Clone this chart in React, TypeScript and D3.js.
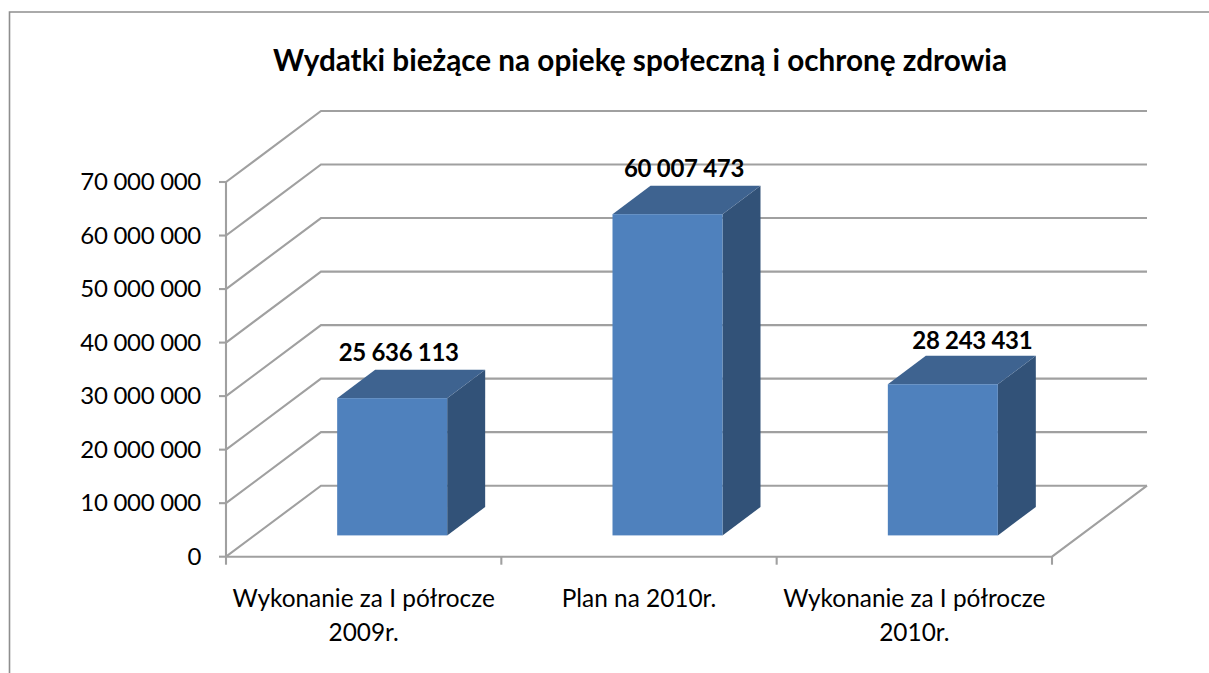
import React from "react";
import * as d3 from "d3";

const categories = [
  ["Wykonanie za I półrocze", "2009r."],
  ["Plan na 2010r."],
  ["Wykonanie za I półrocze", "2010r."],
];
const values = [25636113, 60007473, 28243431];
const valueLabels = ["25 636 113", "60 007 473", "28 243 431"];
const yTicks = [0, 10000000, 20000000, 30000000, 40000000, 50000000, 60000000, 70000000];
const title = "Wydatki bieżące na opiekę społeczną i ochronę zdrowia";

const font = "Lato, 'Open Sans', sans-serif";
const gridColor = "#a0a0a0";

// size of the 3d floor
const depthX = 95;
const depthY = 71;

const yScale = d3.scaleLinear().domain([0, 70000000]).range([556.7, 182]);
const xScale = d3.scaleBand().domain(d3.range(categories.length).map(String)).range([226, 1052]);
// z runs from the front of the floor (0) to the back wall (1)
const zX = d3.scaleLinear().domain([0, 1]).range([0, depthX]);
const zY = d3.scaleLinear().domain([0, 1]).range([0, -depthY]);

const barFront = 0.3;
const barBack = 0.7;
const barWidth = 110;

// the value labels were hand placed in the original chart
const labelShiftX = [6.5, 16.5, 29.5];
const labelShiftY = [-37, -37, -35];

const fmt = d3.formatLocale({ decimal: ",", thousands: " ", grouping: [3], currency: ["", ""] }).format(",d");
const line = d3.line();

export default function App() {
  const y0 = yScale(0);
  const xLeft = xScale.range()[0];
  const xRight = xScale.range()[1];
  const backLeft = xLeft + zX(1);
  const backRight = xRight + zX(1);
  const xEdges = [...xScale.domain().map((d) => xScale(d)), xRight];

  return (
    <svg
      width={1209}
      height={673}
      style={{ position: "absolute", left: 0, top: 0, background: "#fff" }}
    >
      {/* frame, cut by the page on the right and the bottom */}
      <path d={line([[9.5, 673], [9.5, 12], [1209, 12]])} fill="none" stroke="#8e8e8e" strokeWidth={1.6} />

      <text x={640} y={71} textAnchor="middle" fontFamily={font} fontWeight={700} fontSize={29.7} fill="#000">
        {title}
      </text>

      {/* gridlines: side wall + back wall */}
      {yTicks.map((t) => {
        const y = yScale(t);
        const backY = y + zY(1);
        return (
          <g key={t}>
            <path
              d={line([[xLeft, y], [backLeft, backY], [backRight, backY]])}
              fill="none"
              stroke={gridColor}
              strokeWidth={2.1}
            />
            <line x1={xLeft - 7} x2={xLeft} y1={y} y2={y} stroke={gridColor} strokeWidth={2.1} />
            <text
              x={xLeft - 25}
              y={y + 8}
              textAnchor="end"
              fontFamily={font}
              fontSize={24}
              letterSpacing={-0.3}
              fill="#000"
            >
              {fmt(t)}
            </text>
          </g>
        );
      })}

      {/* axes and floor */}
      <line x1={xLeft} x2={xLeft} y1={yScale(70000000)} y2={y0} stroke={gridColor} strokeWidth={2.1} />
      <path
        d={line([[xLeft, y0], [xRight, y0], [backRight, y0 + zY(1)]])}
        fill="none"
        stroke={gridColor}
        strokeWidth={2.1}
      />
      {xEdges.map((x) => (
        <line key={x} x1={x} x2={x} y1={y0} y2={y0 + 8} stroke={gridColor} strokeWidth={2.1} />
      ))}

      {/* bars */}
      {values.map((v, i) => {
        const cx = xScale(String(i)) + xScale.bandwidth() / 2 + zX(barFront);
        const x0 = cx - barWidth / 2;
        const x1 = cx + barWidth / 2;
        const bottom = y0 + zY(barFront);
        const top = yScale(v) + zY(barFront);
        const dx = zX(barBack) - zX(barFront);
        const dy = zY(barBack) - zY(barFront);
        return (
          <g key={i}>
            <path d={line([[x1, top], [x1 + dx, top + dy], [x1 + dx, bottom + dy], [x1, bottom]]) + "Z"} fill="#325278" />
            <path d={line([[x0, top], [x0 + dx, top + dy], [x1 + dx, top + dy], [x1, top]]) + "Z"} fill="#3e6390" />
            <rect x={x0} y={top} width={barWidth} height={bottom - top} fill="#4f81bd" />
          </g>
        );
      })}

      {/* value labels */}
      {values.map((v, i) => {
        const cx = xScale(String(i)) + xScale.bandwidth() / 2 + zX(barFront);
        const top = yScale(v) + zY(barFront);
        return (
          <text
            key={i}
            x={cx + labelShiftX[i]}
            y={top + labelShiftY[i]}
            textAnchor="middle"
            fontFamily={font}
            fontWeight={700}
            fontSize={24}
            letterSpacing={-0.3}
            fill="#000"
          >
            {valueLabels[i]}
          </text>
        );
      })}

      {/* category labels */}
      {categories.map((lines, i) => (
        <text key={i} textAnchor="middle" fontFamily={font} fontSize={24.4} fill="#000">
          {lines.map((l, j) => (
            <tspan key={j} x={xScale(String(i)) + xScale.bandwidth() / 2} y={607 + j * 33.5}>
              {l}
            </tspan>
          ))}
        </text>
      ))}
    </svg>
  );
}
